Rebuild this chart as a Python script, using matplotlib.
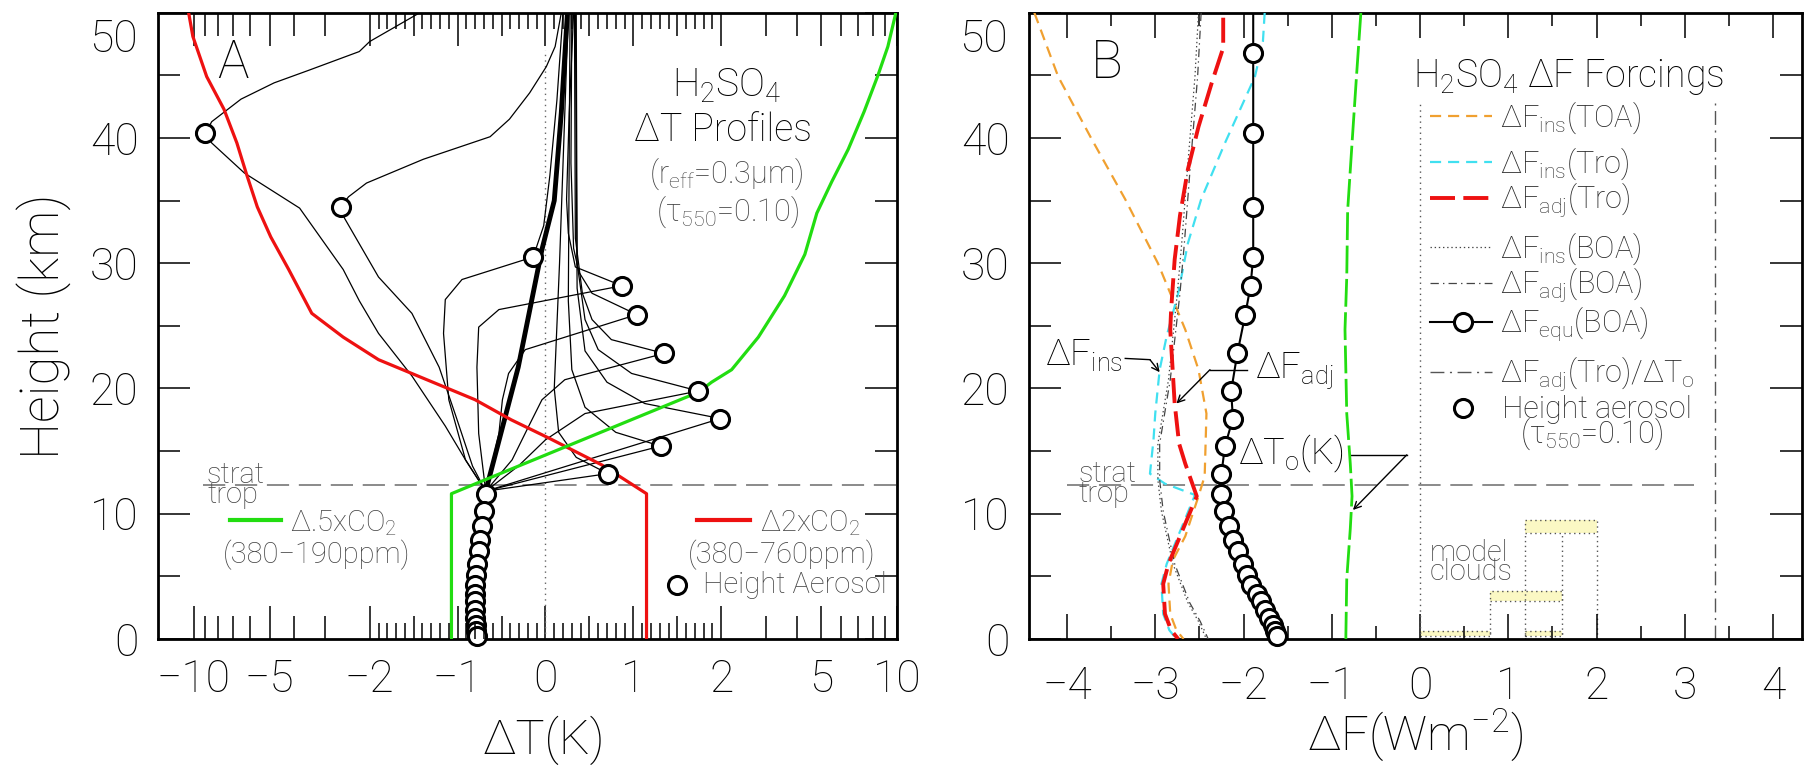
import numpy as np
import matplotlib
matplotlib.use("Agg")
import matplotlib.pyplot as plt

plt.rcParams["font.family"] = ["Roboto", "DejaVu Sans"]
plt.rcParams["font.weight"] = "light"
plt.rcParams["axes.labelweight"] = "light"
plt.rcParams["mathtext.default"] = "regular"
plt.rcParams["lines.scale_dashes"] = False

GRAY = "#444444"
LEGTXT = "#2a2a2a"
RED = "#ee1111"
GREEN = "#22dd11"
ORANGE = "#f0a030"
CYAN = "#40e0f0"

# ---------------- aerosol layer heights (km) ----------------
aerosol_km = [46.8, 40.4, 34.5, 30.5, 28.2, 25.9, 22.8, 19.8, 17.6, 15.4, 13.2,
              11.6, 10.2, 9.0, 7.9, 7.0, 6.0, 5.1, 4.3, 3.6, 3.0, 2.3, 1.7, 1.1, 0.6, 0.2]

# ---------------- panel A : temperature change (K) ----------------
# dT at the height of the aerosol layer (46.8 km case is off scale)
dT_at_aerosol = [np.nan, -9.0, -2.6, -0.14, 0.87, 1.04, 1.35, 1.74, 1.99, 1.31, 0.71,
                 -0.68, -0.70, -0.72, -0.74, -0.76, -0.78, -0.79, -0.80, -0.80, -0.80,
                 -0.80, -0.80, -0.79, -0.79, -0.78]

co2x2_dT = [1.15, 1.15, 0.64, 0.05, -0.39, -0.80, -1.35, -1.90, -2.55, -3.4, -4.2,
            -4.95, -5.6, -6.2, -6.75, -7.6, -8.9, -10.1, -10.5]
co2x2_km = [0, 11.6, 13.9, 16.0, 17.5, 19.1, 20.7, 22.3, 24.1, 26.0, 29.5,
            32.1, 34.5, 37.2, 39.6, 42.3, 44.9, 48.1, 50.0]

co2half_dT = [-1.07, -1.07, -0.76, 1.74, 1.89, 2.2, 2.81, 3.57, 4.3, 4.8, 5.5,
              6.4, 7.4, 8.4, 9.2, 9.9]
co2half_km = [0, 11.6, 12.5, 19.7, 20.5, 21.5, 24.1, 27.4, 30.7, 34.0, 36.5,
              39.1, 42.1, 45.0, 47.3, 50.0]

# dT profiles for the stratospheric aerosol layers
p40_dT = [-0.68, -0.91, -1.14, -1.52, -1.90, -2.20, -2.55, -3.8, -6.3, -8.5, -9.0,
          -8.5, -6.5, -4.8, -3.5, -2.2, -2.0, -1.43]
p40_km = [11.8, 14.3, 17.0, 21.0, 24.4, 27.0, 29.5, 34.4, 37.2, 39.6, 40.4,
          41.3, 43.1, 44.4, 45.4, 46.9, 47.7, 50.0]
p34_dT = [-0.68, -0.83, -1.02, -1.21, -1.52, -1.90, -2.52, -2.6, -2.43, -2.06, -1.39,
          -0.63, -0.41, -0.18, 0.01, 0.11, 0.18]
p34_km = [11.8, 13.8, 17.8, 21.7, 26.0, 28.9, 33.6, 34.5, 35.3, 36.4, 38.3,
          40.1, 41.5, 43.6, 45.7, 47.3, 50.0]
p30_dT = [-0.68, -0.91, -1.10, -1.16, -1.14, -0.95, -0.14, -0.02, 0.05, 0.13, 0.20]
p30_km = [11.8, 14.3, 19.1, 24.4, 27.1, 28.7, 30.5, 33.0, 37.0, 43.0, 50.0]
p28_dT = [-0.68, -0.76, -0.78, -0.76, -0.53, 0.87, 0.34, 0.26, 0.24, 0.27, 0.32]
p28_km = [11.8, 16.4, 21.7, 24.9, 26.3, 28.2, 29.7, 32.4, 35.1, 42.0, 50.0]
p26_dT = [-0.68, -0.53, -0.49, -0.42, -0.23, 1.04, 0.53, 0.38, 0.32, 0.29, 0.30]
p26_km = [11.8, 16.4, 19.1, 21.2, 23.1, 25.9, 27.6, 29.3, 31.2, 38.0, 50.0]
p23_dT = [-0.68, -0.38, -0.19, -0.04, 0.22, 1.35, 0.75, 0.53, 0.42, 0.34, 0.33]
p23_km = [11.8, 14.3, 17.0, 19.1, 20.7, 22.8, 23.9, 25.5, 27.6, 32.0, 50.0]
p20_dT = [-0.68, -0.31, 0.0, 0.45, 1.74, 0.98, 0.60, 0.45, 0.36, 0.35]
p20_km = [11.8, 13.8, 15.9, 18.0, 19.8, 21.2, 23.1, 25.5, 30.0, 50.0]
p18_dT = [-0.68, 1.99, 1.13, 0.70, 0.45, 0.36, 0.34]
p18_km = [11.8, 17.6, 18.8, 20.5, 23.0, 28.0, 50.0]
p15_dT = [-0.68, 1.31, 0.80, 0.45, 0.30, 0.26, 0.28]
p15_km = [11.8, 15.4, 16.5, 18.5, 21.5, 27.0, 50.0]
p13_dT = [-0.68, 0.71, 0.35, 0.15, 0.10, 0.16, 0.26]
p13_km = [11.8, 13.2, 14.5, 16.5, 20.0, 30.0, 50.0]
# tropospheric aerosol cases overlap into one heavy line
trop_dT = [-0.68, -0.31, -0.04, 0.10, 0.18, 0.25]
trop_km = [11.8, 21.7, 31.1, 35.0, 42.0, 50.0]

# ---------------- panel B : forcings (W m-2) ----------------
equ_dF = [-1.89, -1.89, -1.89, -1.89, -1.92, -1.98, -2.07, -2.14, -2.12, -2.21, -2.25,
          -2.25, -2.22, -2.17, -2.12, -2.06, -2.01, -1.96, -1.91, -1.85, -1.80,
          -1.76, -1.71, -1.67, -1.64, -1.62]
equ_top = -1.89

toa_km = [50, 44.9, 39.9, 35.1, 30.0, 24.7, 21.5, 18.0, 13.0, 11.4, 8.2, 6.3, 4.4, 2.0, 0.7, 0]
toa_dF = [-4.37, -4.10, -3.72, -3.34, -2.97, -2.66, -2.51, -2.42, -2.44, -2.51, -2.66,
          -2.80, -2.85, -2.83, -2.76, -2.68]

tro_ins_km = [50, 47.7, 44.9, 39.6, 35.1, 31.6, 27.6, 24.2, 21.5, 18.0, 15.9, 13.2, 12.4,
              11.5, 6.0, 4.4, 2.0, 0.7, 0]
tro_ins_dF = [-1.76, -1.78, -1.87, -2.21, -2.48, -2.63, -2.74, -2.87, -2.95, -3.0, -3.02,
              -3.06, -2.89, -2.55, -2.87, -2.93, -2.91, -2.84, -2.76]

tro_adj_km = [49.6, 47.2, 44.4, 40.9, 37.5, 33.8, 30.3, 26.3, 24.7, 18.8, 15.6, 14.0,
              11.4, 6.0, 4.4, 2.0, 0.7, 0]
tro_adj_dF = [-2.23, -2.23, -2.36, -2.51, -2.63, -2.72, -2.78, -2.82, -2.83, -2.78, -2.73,
              -2.66, -2.53, -2.85, -2.91, -2.89, -2.82, -2.74]

boa_km = [50, 44.9, 38.0, 31.6, 27.6, 20.7, 15.6, 12.7, 10.2, 6.0, 2.9, 1.4, 0]
boa_ins_dF = [-2.51, -2.55, -2.63, -2.70, -2.75, -2.85, -2.97, -2.97, -2.93, -2.80,
              -2.63, -2.51, -2.42]
boa_adj_dF = [-2.48, -2.52, -2.60, -2.67, -2.72, -2.83, -2.95, -2.95, -2.91, -2.78,
              -2.61, -2.49, -2.40]

dTo_km = [50, 44.9, 39.6, 34.2, 28.9, 24.7, 18.0, 14.0, 11.4, 8.8, 4.8, 0.3, 0]
dTo_K = [-0.67, -0.72, -0.77, -0.82, -0.83, -0.85, -0.83, -0.79, -0.77, -0.79, -0.83,
         -0.84, -0.84]

ratio_km = [0, 42.8]
ratio_val = [3.34, 3.34]

# model cloud layers: left, right, bottom, top
cloud_x0 = [1.19, 0.79, 0.0, 1.19]
cloud_x1 = [2.00, 1.61, 0.79, 1.61]
cloud_h0 = [8.5, 3.0, 0.25, 0.25]
cloud_h1 = [9.5, 3.8, 0.65, 0.65]

tropopause_km = 12.3


# ---------------- x scale of panel A: linear to |2| K, log beyond ----------------
def fwd(x):
    x = np.asarray(x, dtype=float)
    a = np.abs(x)
    y = np.where(a <= 2, a, 2 + 2 * np.log10(np.maximum(a, 2) / 2) / np.log10(5))
    return np.sign(x) * y


def inv(y):
    y = np.asarray(y, dtype=float)
    a = np.abs(y)
    x = np.where(a <= 2, a, 2 * 5 ** ((np.maximum(a, 2) - 2) / 2))
    return np.sign(y) * x


fig = plt.figure(figsize=(18.13, 7.66), dpi=100)
axA = fig.add_axes([0.08715, 0.1658, 0.4076, 0.8176])
axB = fig.add_axes([0.5676, 0.1658, 0.4264, 0.8176])

for ax in (axA, axB):
    for s in ax.spines.values():
        s.set_linewidth(2.0)
    ax.set_ylim(0, 50)
    ax.set_yticks([0, 10, 20, 30, 40, 50])
    ax.set_yticklabels(["0", "10", "20", "30", "40", ""])
    ax.set_yticks([5, 15, 25, 35, 45], minor=True)
    ax.tick_params(axis="both", which="both", direction="in", top=True, right=True,
                   width=1.1, colors="k", labelsize=32)
    ax.tick_params(axis="y", which="major", length=23, pad=14)
    ax.tick_params(axis="y", which="minor", length=15.5)
    # top label sits just under the frame
    ax.text(-0.027, 0.99, "50", transform=ax.transAxes, fontsize=32, ha="right", va="top")

# ---------------- panel A ----------------
axA.set_xscale("function", functions=(fwd, inv))
axA.set_xlim(-13.9, 10)
axA.set_xticks([-10, -5, -2, -1, 0, 1, 2, 5, 10])
axA.set_xticklabels(["\u221210", "\u22125", "\u22122", "\u22121", "0", "1", "2", "5", "10"])
axA.set_xticks([-9, -8, -7, -6, -4, -3, -1.5, -0.5, 0.5, 1.5, 3, 4, 6, 7, 8, 9], minor=True)
axA.tick_params(axis="x", which="major", length=23.5, pad=14)
axA.tick_params(axis="x", which="minor", length=16.5)
# 0.1 K tick marks along the bottom and top frame
fine = [t for t in np.round(np.arange(-1.9, 1.95, 0.1), 1) if abs(t * 2 - round(t * 2)) > 1e-6]
fine_len = 1.28
axA.vlines(fine, 0, fine_len, color="k", lw=1.1, zorder=6)
axA.vlines(fine, 50 - fine_len, 50, color="k", lw=1.1, zorder=6)

axA.axvline(0, ymax=47 / 50, color="#666666", lw=1.0, ls=(0, (1, 3)))
axA.plot([-9.2, 10], [tropopause_km] * 2, color="#777777", lw=1.2, ls=(0, (16, 7)))

axA.plot(co2x2_dT, co2x2_km, color=RED, lw=2.3, zorder=3)
axA.plot(co2half_dT, co2half_km, color=GREEN, lw=2.3, zorder=3)

profiles = [(p40_dT, p40_km), (p34_dT, p34_km), (p30_dT, p30_km), (p28_dT, p28_km),
            (p26_dT, p26_km), (p23_dT, p23_km), (p20_dT, p20_km), (p18_dT, p18_km),
            (p15_dT, p15_km), (p13_dT, p13_km)]
for xs, hs in profiles:
    axA.plot(xs, hs, color="k", lw=0.9, zorder=2)
axA.plot(trop_dT, trop_km, color="k", lw=3.5, zorder=2)
axA.plot(dT_at_aerosol[11:], aerosol_km[11:], color="k", lw=0.9, zorder=2)
axA.plot(dT_at_aerosol, aerosol_km, ls="none", marker="o", ms=13, mew=2.2,
         mfc="white", mec="k", zorder=5, clip_on=False)

axA.text(0.1015, 0.920, "A", transform=axA.transAxes, fontsize=38, ha="center", va="center")
axA.text(0.770, 0.8658, "H$_2$SO$_4$", transform=axA.transAxes, fontsize=28, ha="center",
         va="baseline", color="k")
axA.text(0.7645, 0.7955, "\u0394T Profiles", transform=axA.transAxes, fontsize=27,
         ha="center", va="baseline", color="k")
axA.text(0.7686, 0.7428, r"(r$_{eff}$=0.3$\mu$m)", transform=axA.transAxes, fontsize=22,
         ha="center", va="center", color=GRAY)
axA.text(0.770, 0.682, r"($\tau_{550}$=0.10)", transform=axA.transAxes, fontsize=22,
         ha="center", va="center", color=GRAY)
axA.text(0.0663, 0.2492, "strat", transform=axA.transAxes, fontsize=21, color=GRAY,
         va="baseline")
axA.text(0.0663, 0.2173, "trop", transform=axA.transAxes, fontsize=21, color=GRAY,
         va="baseline")

axA.plot([0.0974, 0.1664], [0.1901, 0.1901], transform=axA.transAxes, color=GREEN, lw=3)
axA.text(0.1786, 0.1725, "\u0394.5xCO$_2$", transform=axA.transAxes, fontsize=21,
         color=GRAY, va="baseline")
axA.text(0.2151, 0.1342, "(380\u2212190ppm)", transform=axA.transAxes, fontsize=21,
         color=GRAY, ha="center", va="center")
axA.plot([0.7294, 0.8011], [0.1901, 0.1901], transform=axA.transAxes, color=RED, lw=3)
axA.text(0.8146, 0.1725, "\u03942xCO$_2$", transform=axA.transAxes, fontsize=21,
         color=GRAY, va="baseline")
axA.text(0.8444, 0.1342, "(380\u2212760ppm)", transform=axA.transAxes, fontsize=21,
         color=GRAY, ha="center", va="center")
axA.plot([0.7023], [0.0863], transform=axA.transAxes, marker="o", ms=13, mew=2.2,
         mfc="white", mec="k")
axA.text(0.7375, 0.0863, "Height Aerosol", transform=axA.transAxes, fontsize=21,
         color=GRAY, va="center")

axA.set_xlabel("\u0394T(K)", fontsize=35)
axA.xaxis.set_label_coords(0.522, -0.122)
axA.set_ylabel("Height (km)", fontsize=38)
axA.yaxis.set_label_coords(-0.116, 0.5)

# ---------------- panel B ----------------
axB.set_xlim(-4.43, 4.33)
axB.set_xticks([-4, -3, -2, -1, 0, 1, 2, 3, 4])
axB.set_xticklabels(["\u22124", "\u22123", "\u22122", "\u22121", "0", "1", "2", "3", "4"])
axB.set_xticks([-3.5, -2.5, -1.5, -0.5, 0.5, 1.5, 2.5, 3.5], minor=True)
axB.tick_params(axis="x", which="major", length=18, pad=19)
axB.tick_params(axis="x", which="minor", length=9.5)

axB.plot([0, 0], ratio_km, color="#555555", lw=1.0, ls=(0, (1, 3)))
axB.plot(ratio_val, ratio_km, color="#555555", lw=1.0, ls=(0, (10, 4, 1.5, 4)))
axB.plot([-4.0, 3.1], [tropopause_km] * 2, color="#777777", lw=1.2, ls=(0, (16, 7)))

for x0, x1, h0, h1 in zip(cloud_x0, cloud_x1, cloud_h0, cloud_h1):
    axB.fill_between([x0, x1], h0, h1, facecolor="#fbf8c4", edgecolor="none", zorder=1)
    axB.plot([x0, x1, x1, x0, x0], [h0, h0, h1, h1, h0], color="#555555", lw=1.0,
             ls=(0, (1, 2.5)), zorder=1)
for xv, hv in zip([0.79, 1.19, 1.61, 2.00], [3.0, 8.5, 8.5, 8.5]):
    axB.plot([xv, xv], [0, hv], color="#555555", lw=1.0, ls=(0, (1, 2.5)), zorder=1)

axB.plot(toa_dF, toa_km, color=ORANGE, lw=1.6, ls=(0, (8, 5)), zorder=3)
axB.plot(tro_ins_dF, tro_ins_km, color=CYAN, lw=1.6, ls=(0, (8, 5)), zorder=3)
axB.plot(boa_ins_dF, boa_km, color="#444444", lw=0.9, ls=(0, (1, 2)), zorder=3)
axB.plot(boa_adj_dF, boa_km, color="#444444", lw=0.9, ls=(0, (6, 3, 1, 3)), zorder=3)
axB.plot(tro_adj_dF, tro_adj_km, color=RED, lw=2.8, ls=(0, (18, 6)), zorder=4)
axB.plot(dTo_K, dTo_km, color=GREEN, lw=2.0, ls=(0, (20, 4)), zorder=3)
axB.plot([equ_top] + equ_dF, [50] + aerosol_km, color="k", lw=1.5, zorder=4)
axB.plot(equ_dF, aerosol_km, ls="none", marker="o", ms=13, mew=2.2, mfc="white",
         mec="k", zorder=5, clip_on=False)

# leader lines and arrows for the curve labels
ins_lead = [(-3.34, 22.4), (-3.06, 22.3), (-2.95, 21.3)]
adj_lead = [(-1.96, 21.5), (-2.38, 21.5), (-2.76, 18.8)]
dTo_lead = [(-0.79, 14.7), (-0.15, 14.7), (-0.76, 10.3)]
for lead in (ins_lead, adj_lead, dTo_lead):
    axB.plot([lead[0][0], lead[1][0]], [lead[0][1], lead[1][1]], color="k", lw=1.0)
    axB.annotate("", xy=lead[2], xytext=lead[1],
                 arrowprops=dict(arrowstyle="->,head_length=0.5,head_width=0.25",
                                 color="k", lw=1.0, shrinkA=0, shrinkB=0))

axB.text(0.0207, 0.4377, "\u0394F$_{ins}$", transform=axB.transAxes, fontsize=26,
         va="baseline")
axB.text(0.2924, 0.4169, "\u0394F$_{adj}$", transform=axB.transAxes, fontsize=26,
         va="baseline")
axB.text(0.2704, 0.2780, "\u0394T$_o$(K)", transform=axB.transAxes, fontsize=26,
         va="baseline")
axB.text(0.0634, 0.2508, "strat", transform=axB.transAxes, fontsize=21, color=GRAY,
         va="baseline")
axB.text(0.0634, 0.2188, "trop", transform=axB.transAxes, fontsize=21, color=GRAY,
         va="baseline")
axB.text(0.5188, 0.1246, "model", transform=axB.transAxes, fontsize=21, color=GRAY,
         va="baseline")
axB.text(0.5188, 0.0942, "clouds", transform=axB.transAxes, fontsize=21, color=GRAY,
         va="baseline")

axB.text(0.1009, 0.920, "B", transform=axB.transAxes, fontsize=38, ha="center", va="center")
axB.text(0.6973, 0.8818, "H$_2$SO$_4$ \u0394F Forcings", transform=axB.transAxes,
         fontsize=27, ha="center", va="baseline", color="k")

# legend of panel B
leg_x = [0.5188, 0.5990]
leg_text_x = 0.6093
leg_rows = [
    (0.8355, 0.8179, "\u0394F$_{ins}$(TOA)", dict(color=ORANGE, lw=1.6, ls=(0, (8, 5)))),
    (0.7620, 0.7444, "\u0394F$_{ins}$(Tro)", dict(color=CYAN, lw=1.6, ls=(0, (8, 5)))),
    (0.7045, 0.6885, "\u0394F$_{adj}$(Tro)", dict(color=RED, lw=2.8, ls=(0, (18, 6)))),
    (0.6262, 0.6086, "\u0394F$_{ins}$(BOA)", dict(color="#444444", lw=0.9, ls=(0, (1, 2)))),
    (0.5687, 0.5527, "\u0394F$_{adj}$(BOA)", dict(color="#444444", lw=0.9, ls=(0, (6, 3, 1, 3)))),
    (0.5064, 0.4904, "\u0394F$_{equ}$(BOA)", dict(color="k", lw=1.5)),
    (0.4265, 0.4105, "\u0394F$_{adj}$(Tro)/\u0394T$_o$", dict(color="#555555", lw=1.0,
                                                      ls=(0, (10, 4, 1.5, 4)))),
]
for y_line, y_text, label, style in leg_rows:
    axB.plot(leg_x, [y_line, y_line], transform=axB.transAxes, **style)
    axB.text(leg_text_x, y_text, label, transform=axB.transAxes, fontsize=22,
             color=LEGTXT, va="baseline")
axB.plot([0.5615], [0.5064], transform=axB.transAxes, marker="o", ms=13, mew=2.2,
         mfc="white", mec="k")
axB.plot([0.5615], [0.3690], transform=axB.transAxes, marker="o", ms=13, mew=2.2,
         mfc="white", mec="k")
axB.text(0.6119, 0.3530, "Height aerosol", transform=axB.transAxes, fontsize=22,
         color=LEGTXT, va="baseline")
axB.text(0.6352, 0.3131, r"($\tau_{550}$=0.10)", transform=axB.transAxes, fontsize=22,
         color=LEGTXT, va="baseline")

axB.set_xlabel("\u0394F(Wm$^{-2}$)", fontsize=35)
axB.xaxis.set_label_coords(0.4994, -0.108)

fig.savefig("out.png", dpi=100)
